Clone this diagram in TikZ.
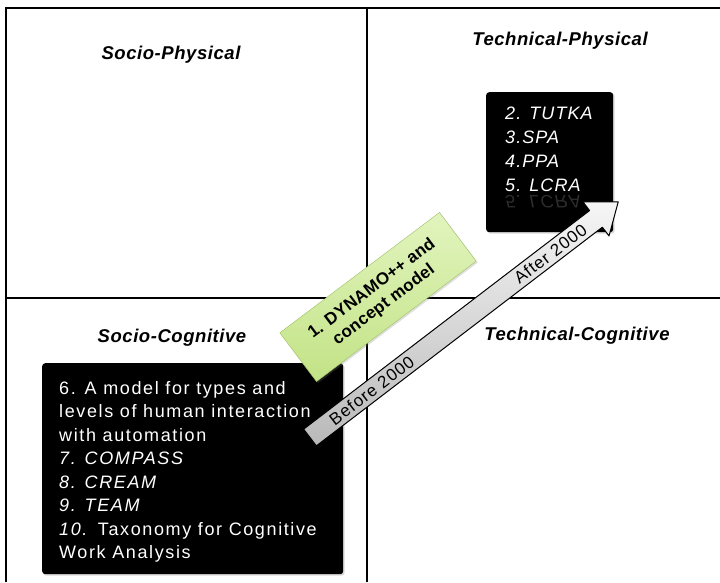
\documentclass[tikz,border=0pt]{standalone}
\usepackage{fontspec}
\setmainfont{Liberation Sans}
\newfontfamily\boxfont[LetterSpace=6]{Liberation Sans}
\newfontfamily\listfont[LetterSpace=9]{Liberation Sans}
\newfontfamily\titlefont[LetterSpace=3]{Liberation Sans}
\newfontfamily\notefont[LetterSpace=1.5]{Liberation Sans}
\usetikzlibrary{calc,shadows}

\definecolor{notelight}{HTML}{E2F4BE}
\definecolor{notedark}{HTML}{C2E386}
\definecolor{noteedge}{HTML}{9DBE63}
\definecolor{arrowlight}{HTML}{F6F6F6}
\definecolor{arrowdark}{HTML}{B9B9B9}

\begin{document}
\begin{tikzpicture}[x=1pt,y=-1pt,
    quadtitle/.style={font=\titlefont\fontsize{18.5}{22}\selectfont\bfseries\itshape},
    blackbox/.style={fill=black,rounded corners=3pt,
        drop shadow={shadow xshift=1.5pt,shadow yshift=-1.5pt,opacity=0.3}},
    modeltext/.style={text=white,align=left,inner sep=0pt,
        font=\listfont\fontsize{18}{23.5}\selectfont},
    stickynote/.style={draw=noteedge,top color=notelight,bottom color=notedark,
        rotate=37,minimum width=200pt,minimum height=61pt,align=center,
        font=\notefont\fontsize{17}{20}\selectfont\bfseries,
        drop shadow={shadow xshift=1.5pt,shadow yshift=-1.5pt,opacity=0.25}},
    timearrow/.style={draw=black,line width=1pt,line join=round,
        top color=arrowlight,bottom color=arrowdark},
    timetext/.style={rotate=37.4,font=\boxfont\fontsize{17}{20}\selectfont}]
\useasboundingbox (0,0) rectangle (720,582);

\draw [line width=2pt] (6,582) -- (6,8) -- (720,8);
\draw [line width=2pt] (6,298) -- (720,298);
\draw [line width=2pt] (367,8) -- (367,582);

\node [quadtitle] (sophys) at (171,55) {Socio-Physical};
\node [quadtitle] (techphys) at (560,41) {Technical-Physical};
\node [quadtitle] (socog) at (172,338) {Socio-Cognitive};
\node [quadtitle] (techcog) at (577,336) {Technical-Cognitive};

\node [blackbox,minimum width=127pt,minimum height=140pt,anchor=north west] (tpbox) at (486,92) {};
\node [modeltext,font=\boxfont\fontsize{18}{24}\selectfont\itshape,anchor=north west] (tplist) at (505,107)
    {2. TUTKA\\3.SPA\\4.PPA\\5. LCRA};
\node [modeltext,text=black!82,font=\boxfont\fontsize{18}{24}\selectfont\itshape,yscale=-1,anchor=base west] (tpecho) at (505,195) {5. LCRA};

\node [blackbox,minimum width=301pt,minimum height=211pt,anchor=north west] (scbox) at (42,363) {};
\node [modeltext,anchor=north west] (sclist) at (59,381)
    {6. A model for types and\\levels of human interaction\\with automation\\\textit{7. COMPASS}\\\textit{8. CREAM}\\\textit{9. TEAM}\\\textit{10.} Taxonomy for Cognitive\\Work Analysis};

\coordinate (early) at (310,437.5);
\coordinate (late) at (618,202);
\begin{scope}[shift={(early)},rotate=37.4]
  \draw [timearrow] (0,-10.5) -- (360,-10.5) -- (360,-21.5) -- (388,0) -- (360,21.5) -- (360,10.5) -- (0,10.5) -- cycle;
\end{scope}
\node [timetext] (before) at ($(early)!0.2!(late)$) {Before 2000};
\node [timetext] (after) at ($(early)!0.78!(late)$) {After 2000};

\node [stickynote] (dynamo) at (378,297) {1. DYNAMO++ and\\concept model};
\end{tikzpicture}
\end{document}
